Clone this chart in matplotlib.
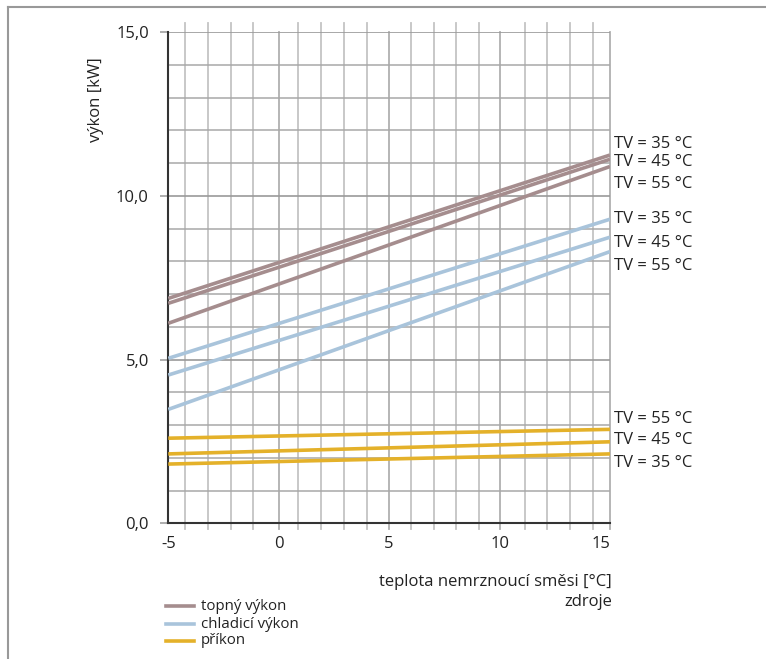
import matplotlib.pyplot as plt
from matplotlib.lines import Line2D

plt.rcParams['font.family'] = ['Open Sans', 'DejaVu Sans']

# source temperature [°C]
temp = [-5, 15]

# heating output [kW] for TV = 35/45/55 °C
heat_35 = [6.87, 11.25]
heat_45 = [6.72, 11.12]
heat_55 = [6.11, 10.90]

# cooling output [kW]
cool_35 = [5.04, 9.29]
cool_45 = [4.53, 8.74]
cool_55 = [3.48, 8.30]

# power input [kW]
pow_35 = [1.81, 2.12]
pow_45 = [2.12, 2.49]
pow_55 = [2.60, 2.87]

major_x = [-5, 0, 5, 10, 15]
minor_x = [-4.24, -3.19, -2.18, -1.16, 0.89, 1.92, 2.94, 3.98,
           6.0, 7.02, 8.03, 9.05, 11.13, 12.16, 13.2, 14.22]
major_y = [0, 5, 10, 15]
minor_y = [1, 2, 3, 4, 6, 7, 8, 9, 11, 12, 13, 14]

c_heat = '#a58d8e'
c_cool = '#a9c4db'
c_pow = '#e4b12a'
c_grid = '#c4c4c4'
c_text = '#222222'

fig = plt.figure(figsize=(7.66, 6.59), dpi=100)
ax = fig.add_axes([0.2197, 0.2059, 0.5766, 0.7451])
ax.set_xlim(-5, 15)
ax.set_ylim(0, 15)

# grid
for x in minor_x:
    ax.plot([x, x], [-0.18, 15.28], color=c_grid, lw=1.3, zorder=1, clip_on=False)
for x in major_x[1:]:
    ax.plot([x, x], [-0.18, 15], color='#b0b0b0', lw=1.3, zorder=1, clip_on=False)
for y in minor_y:
    ax.axhline(y, color='#a8a8a8', lw=1.1, zorder=1)
for y in major_y[1:]:
    ax.axhline(y, color='#999999', lw=1.2, zorder=1)

for s in ['top', 'right']:
    ax.spines[s].set_visible(False)
ax.spines['left'].set_color('#333333')
ax.spines['bottom'].set_color('#333333')
ax.spines['left'].set_linewidth(1.5)
ax.spines['bottom'].set_linewidth(1.5)

fs = 12
ax.set_xticks(major_x)
ax.set_xticklabels([str(v) for v in major_x])
ax.set_yticks(major_y)
ax.set_yticklabels([f'{v},0' for v in major_y])
ax.tick_params(axis='x', length=0, pad=9, labelsize=fs, labelcolor=c_text)
ax.tick_params(axis='y', length=6, width=1.1, color='#999999', pad=8,
               labelsize=fs, labelcolor=c_text)
ax.get_xticklabels()[-1].set_ha('right')
ax.get_xticklabels()[-1].set_x(15.4)

lw = 2.6
for ys in (heat_35, heat_45, heat_55):
    ax.plot(temp, ys, color=c_heat, lw=lw, zorder=3, solid_capstyle='butt')
for ys in (cool_35, cool_45, cool_55):
    ax.plot(temp, ys, color=c_cool, lw=lw, zorder=3, solid_capstyle='butt')
for ys in (pow_35, pow_45, pow_55):
    ax.plot(temp, ys, color=c_pow, lw=lw, zorder=3, solid_capstyle='butt')

# end labels
labels = [
    ('TV = 35 °C', 11.6), ('TV = 45 °C', 11.05), ('TV = 55 °C', 10.38),
    ('TV = 35 °C', 9.3), ('TV = 45 °C', 8.57), ('TV = 55 °C', 7.86),
    ('TV = 55 °C', 3.2), ('TV = 45 °C', 2.55), ('TV = 35 °C', 1.85),
]
for txt, y in labels:
    ax.text(15.2, y, txt, fontsize=fs, color=c_text, va='center', ha='left',
            clip_on=False)

fig.text(96 / 766, 1 - 100 / 659, 'výkon [kW]', rotation=90, fontsize=fs,
         color=c_text, ha='center', va='center')
fig.text(612 / 766, 1 - 582 / 659, 'teplota nemrznoucí směsi [°C]',
         fontsize=fs, color=c_text, ha='right', va='center')
fig.text(612 / 766, 1 - 602 / 659, 'zdroje', fontsize=fs, color=c_text,
         ha='right', va='center')

# legend
leg_items = [('topný výkon', c_heat, 606), ('chladicí výkon', c_cool, 624),
             ('příkon', c_pow, 641)]
for txt, col, ypx in leg_items:
    yf = 1 - ypx / 659
    fig.add_artist(Line2D([166 / 766, 194 / 766], [yf, yf], color=col, lw=2.6))
    fig.text(201 / 766, yf, txt, fontsize=10.8, color=c_text, va='center')

# outer frame
fig.add_artist(Line2D([8 / 766, 1], [1 - 7 / 659, 1 - 7 / 659], color='#999999', lw=1.5))
fig.add_artist(Line2D([8 / 766, 8 / 766], [0, 1 - 7 / 659], color='#999999', lw=1.5))

fig.savefig('out.png', dpi=100)
